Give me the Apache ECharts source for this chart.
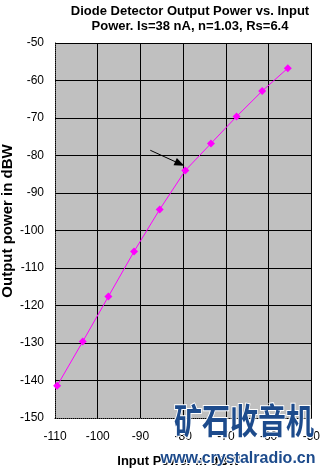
<!DOCTYPE html>
<html><head><meta charset="utf-8">
<script src="https://cdn.jsdelivr.net/npm/echarts@6/dist/echarts.min.js"></script>
<style>html,body{margin:0;padding:0;background:#fff}#c{width:323px;height:473px}</style>
</head><body><div id="c"></div>
<script>
const titleLines = ['Diode Detector Output Power vs. Input', 'Power. Is=38 nA, n=1.03, Rs=6.4'];
const xName = 'Input Power in dBW';
const yName = 'Output power in dBW';
const inputPower = [-109.5, -103.5, -97.5, -91.5, -85.5, -79.5, -73.5, -67.5, -61.5, -55.5];
const outputPower = [-141.4, -129.6, -117.6, -105.6, -94.4, -84.0, -76.8, -69.6, -62.8, -56.7];
const arrowFrom = [-87.7, -78.6];
const arrowTo = [-80.8, -82.2];
const watermarkCN = '矿石收音机';
const watermarkURL = 'www.crystalradio.cn';

const chart = echarts.init(document.getElementById('c'), null, {renderer: 'canvas'});
const font = '"Liberation Sans", Arial, sans-serif';
chart.setOption({
  animation: false,
  backgroundColor: '#fff',
  title: {
    text: titleLines.join('\n'),
    left: 185, top: -1, textAlign: 'center',
    textStyle: {fontFamily: font, fontSize: 13, fontWeight: 'bold', color: '#000', lineHeight: 15}
  },
  grid: {left: 55, top: 43, right: 7, bottom: 45, show: true, backgroundColor: '#c0c0c0', borderWidth: 0},
  xAxis: {
    type: 'value', min: -110, max: -50, interval: 10,
    name: xName, nameLocation: 'middle', nameGap: 37,
    nameTextStyle: {fontFamily: font, fontSize: 13, fontWeight: 'bold', color: '#000', padding: [0, 9, 0, 0]},
    axisLine: {show: true, lineStyle: {color: '#000', type: 'dotted', width: 1}},
    axisTick: {show: false},
    axisLabel: {margin: 13, fontFamily: font, fontSize: 12, color: '#000'},
    splitLine: {show: true, showMinLine: false, showMaxLine: true, lineStyle: {color: '#000', width: 1}}
  },
  yAxis: {
    type: 'value', min: -150, max: -50, interval: 10,
    axisLine: {show: true, lineStyle: {color: '#000', type: 'dotted', width: 1}},
    axisTick: {show: false},
    axisLabel: {margin: 11, fontFamily: font, fontSize: 12, color: '#000'},
    splitLine: {show: true, showMinLine: false, showMaxLine: true, lineStyle: {color: '#000', width: 1}}
  },
  series: [{
    type: 'line',
    data: inputPower.map((x, i) => [x, outputPower[i]]),
    symbol: 'diamond', symbolSize: 8,
    lineStyle: {color: '#ff00ff', width: 1},
    itemStyle: {color: '#ff00ff'},
    markLine: {
      silent: true,
      symbol: ['none', 'triangle'], symbolSize: [8, 10],
      label: {show: false},
      lineStyle: {color: '#000', width: 1, type: 'solid'},
      data: [[{coord: arrowFrom}, {coord: arrowTo}]]
    }
  }],
  graphic: [
    {type: 'text', rotation: Math.PI / 2, x: 8, y: 221,
     style: {text: yName, fontFamily: font, fontSize: 15, fontWeight: 'bold', fill: '#000', align: 'center', verticalAlign: 'middle'}},
    {type: 'text', x: 244, y: 421, scaleX: 0.8, z: 100,
     style: {text: watermarkCN, fontFamily: '"Noto Sans CJK SC"', fontSize: 35, fontWeight: 'bold', fill: '#1d4b8c', stroke: '#fff', lineWidth: 2, align: 'center', verticalAlign: 'middle'}},
    {type: 'text', x: 238, y: 459, z: 100,
     style: {text: watermarkURL, fontFamily: font, fontSize: 16, fontWeight: 'bold', fill: '#1d4b8c', stroke: '#fff', lineWidth: 2, align: 'center', verticalAlign: 'middle'}}
  ]
});
</script></body></html>
